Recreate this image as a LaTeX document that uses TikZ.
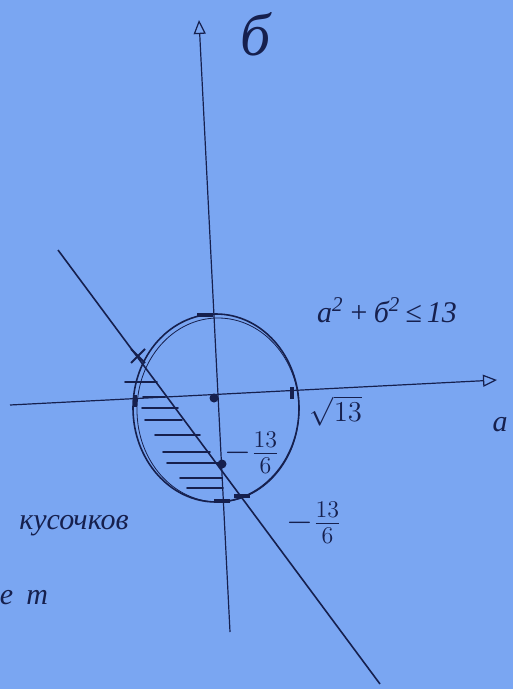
\documentclass[tikz,border=0pt]{standalone}
\usepackage{fontspec}
\setmainfont{Liberation Serif}
\usetikzlibrary{arrows.meta, positioning, shapes.misc}
\definecolor{paperblue}{RGB}{122,166,242}
\definecolor{ink}{RGB}{22,32,78}

\begin{document}
\begin{tikzpicture}[
			x=0.5pt, y=-0.5pt,
			>={Triangle[open, length=7pt, width=6pt]},
			font=\itshape\fontsize{15}{17}\selectfont,
			color=ink,
			% styles
			axis/.style={->, line width=0.6pt},
			curve/.style={line width=0.8pt},
			hatch/.style={line width=0.8pt, line cap=round},
			dot/.style={circle, fill=ink, inner sep=0pt, minimum size=4.5pt},
			htick/.style={rectangle, fill=ink, inner sep=0pt, minimum width=8pt, minimum height=1.6pt},
			vtick/.style={rectangle, fill=ink, inner sep=0pt, minimum width=1.6pt, minimum height=6pt},
			cross/.style={cross out, draw=ink, line width=1pt, inner sep=0pt, minimum size=6pt},
			frac/.style={font=\fontsize{17}{19}\selectfont, inner sep=1pt}
		]

		% background
		\fill[paperblue] (0,0) rectangle (513,689);
		\useasboundingbox (0,0) rectangle (513,689);

		% axes
		\coordinate (b-low) at (230,632);
		\coordinate (b-top) at (199,20);
		\coordinate (a-left) at (10,405);
		\coordinate (a-right) at (497,380);
		\draw[axis] (b-low) -- (b-top);
		\draw[axis] (a-left) -- (a-right);

		% circle a^2+b^2<=13
		\draw[curve] (216,408) ellipse [x radius=83, y radius=94];
		\draw[curve, line width=0.4pt] (218,410) ellipse [x radius=81, y radius=92];

		% line
		\coordinate (line-start) at (58,250);
		\coordinate (line-end) at (380,684);
		\draw[curve] (line-start) -- (line-end);

		% hatching
		\foreach \y/\xa/\xb in {382/125/157, 397/143/165, 408/142/178,
			420/145/182, 435/155/200, 452/163/210, 463/167/220,
			478/180/222, 488/187/223}
			\draw[hatch] (\xa,\y) -- (\xb,\y);

		% points
		\node[dot] (origin) at (214,398) {};
		\node[dot] (b-point) at (222,464) {};
		\node[htick] (top-tick) at (205,315) {};
		\node[htick] (bottom-tick) at (222,501) {};
		\node[htick] (meet-low) at (242,496) {};
		\node[vtick] (left-tick) at (135,401) {};
		\node[vtick] (right-tick) at (292,393) {};
		\node[cross] (meet-up) at (138,356) {};

		% labels
		\node (b-label) at (256,34) {\fontsize{30}{30}\selectfont б};
		\node (a-label) at (500,425) {a};
		\node (circle-label) at (387,310) {a\textsuperscript{2}\,+\,б\textsuperscript{2}\,≤\,13};
		\node (root-label) at (336,411) {$\sqrt{13}$};
		\node[frac] (b-value) at (252,453) {$-\frac{13}{6}$};
		\node[frac] (a-value) at (314,523) {$-\frac{13}{6}$};
		\node (pieces) at (74,526) {кусочков};
		\node (tail) at (24,598) {е\;\,т};

	\end{tikzpicture}
\end{document}
